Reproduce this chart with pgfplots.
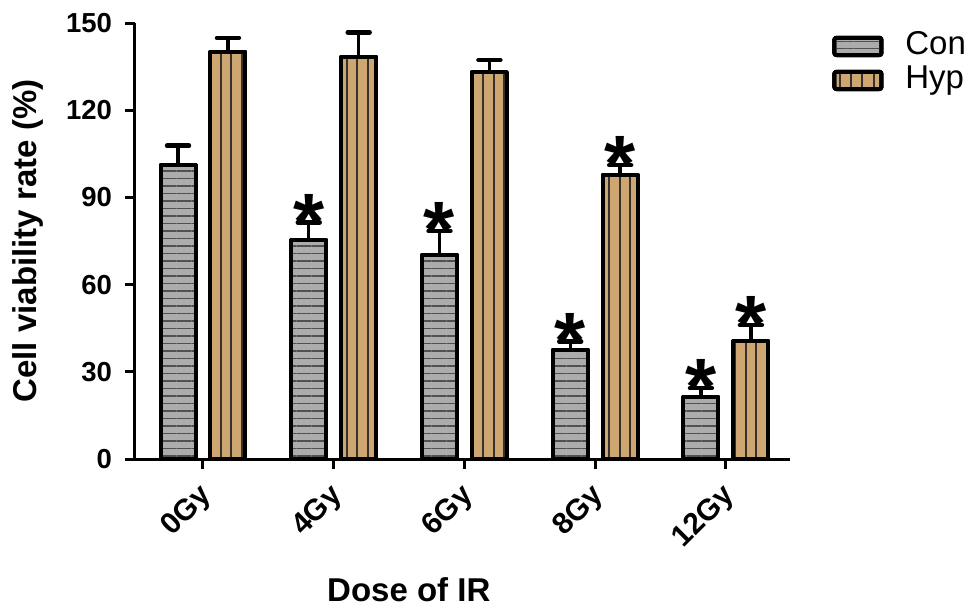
\documentclass[border=0pt]{standalone}
\usepackage{pgfplots}
\pgfplotsset{compat=1.18}
\usepackage{fontspec}
\setmainfont{Liberation Sans}
\usetikzlibrary{patterns.meta}
\definecolor{congray}{RGB}{172,172,172}
\definecolor{conline}{RGB}{80,80,80}
\definecolor{hyptan}{RGB}{206,166,114}
\definecolor{hypline}{RGB}{55,50,45}

\begin{document}
\begin{tikzpicture}
\path[use as bounding box] (-67.5pt,-73.5pt) rectangle (419pt,229.5pt);
\begin{axis}[
  at={(0,0)}, anchor=south west,
  scale only axis, width=327.5pt, height=218pt,
  xmin=-0.52, xmax=4.49, ymin=0, ymax=150,
  axis lines*=left,
  axis line style={line width=1.5pt, -},
  xtick={0,1,2,3,4}, xticklabels={0Gy,4Gy,6Gy,8Gy,12Gy},
  ytick={0,30,60,90,120,150},
  tick align=outside, major tick length=5pt,
  tick style={line width=1.5pt, black},
  /pgf/number format/assume math mode=true,
  ticklabel style={font=\bfseries\fontsize{13.75}{16}\selectfont},
  yticklabel style={xshift=-3pt},
  xticklabel style={rotate=45, anchor=east, xshift=-3pt, yshift=-9.5pt, font=\bfseries\fontsize{15}{17}\selectfont},
  every axis x label/.style={at={(axis description cs:0.418,-0.3005)}, anchor=center},
  every axis y label/.style={at={(axis description cs:-0.1634,0.5)}, anchor=center, rotate=90},
  label style={font=\bfseries\fontsize{16.5}{19}\selectfont},
  xlabel={Dose of IR},
  ylabel={Cell viability rate (\%)},
  bar width=17.5pt,
  error bars/y dir=plus, error bars/y explicit,
  error bars/error bar style={line width=1.7pt, black},
  error bars/error mark options={rotate=90, mark size=5.5pt, line width=2.2pt, black, line cap=round},
  legend style={at={(1,1)}, anchor=north west, xshift=21pt, yshift=-3pt,
    draw=none, fill=none, inner sep=0pt, row sep=0pt,
    font=\fontsize{16.5}{19}\selectfont,
    nodes={inner sep=1pt, text height=11.5pt, text depth=3.5pt},
    /tikz/every odd column/.append style={column sep=10pt}},
  legend cell align=left,
  clip=false,
]
% bars drawn at category index -/+ 0.191 (the two groups side by side)
\addplot[ybar, bar shift=0pt, draw=black, line width=2pt, line join=round,
  preaction={fill=congray},
  pattern={Lines[angle=0, distance=3.75pt, line width=0.8pt]}, pattern color=conline,
  legend image code/.code={\draw[preaction={fill=congray}, pattern={Lines[angle=0, distance=3.4pt, line width=0.8pt]}, pattern color=conline, draw=black, line width=2pt, line join=round, rounded corners=1pt] (0pt,-4.3pt) rectangle (23.5pt,4.3pt);}]
  coordinates {(-0.191,101.0) +- (0,6.8) (0.809,75.2) +- (0,6.2) (1.809,70.1) +- (0,8.4) (2.809,37.5) +- (0,2.9) (3.809,21.3) +- (0,3.1)};
\addlegendentry{Con}
\addplot[ybar, bar shift=0pt, draw=black, line width=2pt, line join=round,
  preaction={fill=hyptan},
  pattern={Lines[angle=90, distance=5.25pt, line width=1pt]}, pattern color=hypline,
  legend image code/.code={\draw[preaction={fill=hyptan}, pattern={Lines[angle=90, distance=5.6pt, line width=1pt]}, pattern color=hypline, draw=black, line width=2pt, line join=round, rounded corners=1pt] (0pt,-4.3pt) rectangle (23.5pt,4.3pt);}]
  coordinates {(0.191,140.0) +- (0,4.9) (1.191,138.3) +- (0,8.5) (2.191,133.1) +- (0,4.2) (3.191,97.7) +- (0,3.4) (4.191,40.5) +- (0,5.6)};
\addlegendentry{Hyp}
% significance stars above the error bars
\addplot[draw=none, mark=none, forget plot,
  nodes near coords={*},
  every node near coord/.append style={anchor=base, yshift=-13.3pt, inner sep=0pt, font=\bfseries\fontsize{40}{40}\selectfont}]
  coordinates {(0.809,81.4) (1.809,78.5) (2.809,40.4) (3.809,24.4) (3.191,101.1) (4.191,46.1)};
\end{axis}
\end{tikzpicture}
\end{document}
